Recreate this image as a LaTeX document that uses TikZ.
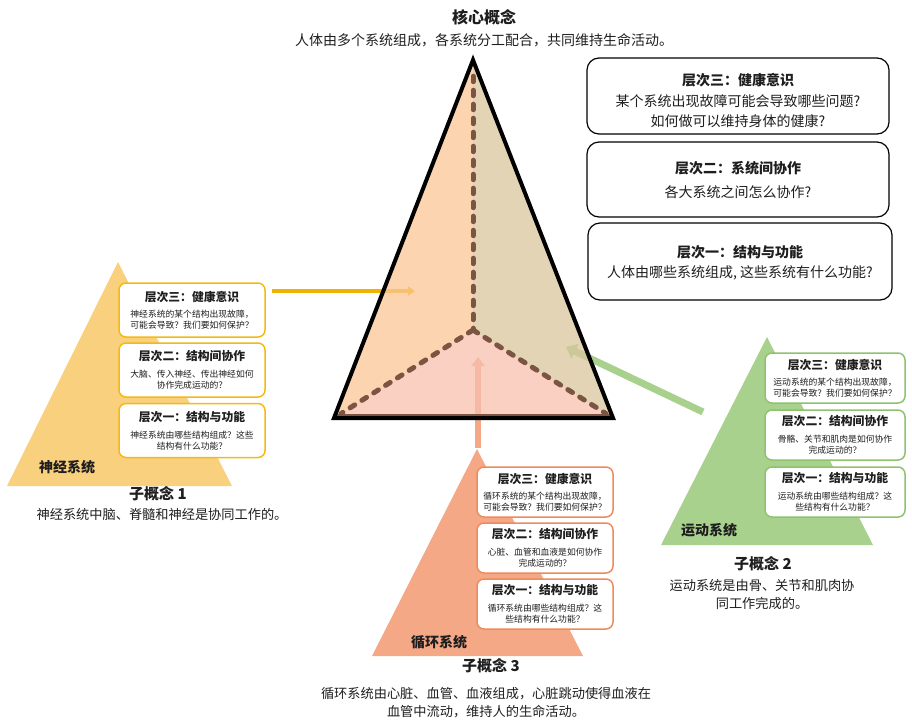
\documentclass[tikz,border=0pt]{standalone}
\usepackage{fontspec}
\setmainfont{Noto Sans CJK SC}
\usetikzlibrary{arrows.meta,calc}
\definecolor{ylw}{HTML}{F9D07E}
\definecolor{ylwline}{HTML}{F5B912}
\definecolor{ylwarrow}{HTML}{F0B400}
\definecolor{grn}{HTML}{A9D18E}
\definecolor{grnline}{HTML}{8DC26F}
\definecolor{sal}{HTML}{F5A886}
\definecolor{salline}{HTML}{EE8B5A}
\definecolor{faceL}{HTML}{FBC696}
\definecolor{faceR}{HTML}{D8C69B}
\definecolor{faceB}{HTML}{F7C0AE}
\definecolor{brn}{HTML}{7B5442}
\definecolor{txt}{HTML}{1E1E1E}
\tikzset{
  sbox/.style={rounded corners=7pt, line width=1.5pt, fill=white, inner sep=0pt},
  stitle/.style={font=\fontsize{11.8}{13}\selectfont\bfseries, text=txt, inner sep=0pt},
  sbody/.style={font=\fontsize{8.8}{11}\selectfont, align=center, text=txt, inner sep=0pt},
  bigbox/.style={draw=black, line width=1.2pt, rounded corners=12pt, fill=white, inner sep=0pt},
  btitle/.style={font=\fontsize{14}{17}\selectfont\bfseries, text=txt, inner sep=0pt},
  bbody/.style={font=\fontsize{14}{20}\selectfont, align=center, text=txt, inner sep=0pt},
  syslabel/.style={font=\fontsize{14}{16}\selectfont\bfseries, text=txt, inner sep=0pt},
  subhead/.style={font=\fontsize{15}{18}\selectfont\bfseries, text=txt, inner sep=0pt},
  subdesc/.style={font=\fontsize{13.2}{18}\selectfont, align=center, text=txt, inner sep=0pt},
  dashedge/.style={brn, line width=5pt, line cap=round, dash pattern=on 5.5pt off 8.5pt},
}
\newcommand\SB[9]{%
  \node[sbox, draw=#6, minimum width=#4pt, minimum height=#5pt] (#1) at (#2,#3) {};
  \node[stitle] (#1t) at (#2,{#3-13.5}) {#7};
  \node[sbody] (#1b) at (#2,{#3+10}) {#8\\#9};
}
\begin{document}
\begin{tikzpicture}[x=1pt,y=-1pt]
\useasboundingbox (0,0) rectangle (912,723);

% ---------- titles ----------
\node[font=\fontsize{16}{18}\selectfont\bfseries, text=txt, inner sep=0pt] (coretitle) at (484,17) {核心概念};
\node[font=\fontsize{14}{17}\selectfont, text=txt, inner sep=0pt] (coresub) at (484,40) {人体由多个系统组成，各系统分工配合，共同维持生命活动。};

% ---------- sub triangles ----------
\fill[ylw] (118,262) -- (232,486) -- (7,486) -- cycle;
\fill[grn] (767,337) -- (873,545) -- (661,545) -- cycle;
\fill[sal] (477,449) -- (583,656) -- (372,656) -- cycle;

% ---------- arrows (under the pyramid) ----------
\coordinate (ya) at (272,291);
\coordinate (yb) at (415,291);
\coordinate (ga) at (703,412);
\coordinate (gb) at (566,347);
\coordinate (sa) at (478,448);
\coordinate (sb) at (478,357);
\draw[ylwarrow, line width=3.5pt, -{Triangle[length=7pt,width=9pt]}] (ya) -- (yb);
\draw[grn, line width=7pt, -{Triangle[length=10pt,width=16pt]}] (ga) -- (gb);
\draw[sal, line width=6pt, -{Triangle[length=9pt,width=13pt]}] (sa) -- (sb);

% ---------- central pyramid ----------
\coordinate (A) at (473,60);
\coordinate (L) at (334,418);
\coordinate (R) at (613,418);
\coordinate (C) at (473,330);
\fill[faceL, fill opacity=0.75] (A) -- (C) -- (L) -- cycle;
\fill[faceR, fill opacity=0.75] (A) -- (C) -- (R) -- cycle;
\fill[faceB, fill opacity=0.75] (L) -- (C) -- (R) -- cycle;
\draw[brn, line width=1.5pt] ($(L)+(1,-3)$) -- ($(R)+(-1,-3)$);
\draw[dashedge] ($(A)!0.06!(C)$) -- (C);
\draw[dashedge] (C) -- ($(C)!0.95!(L)$);
\draw[dashedge] (C) -- ($(C)!0.95!(R)$);
\draw[black, line width=4pt, line join=miter] (A) -- (R) -- (L) -- cycle;

% ---------- right boxes ----------
\node[bigbox, minimum width=302pt, minimum height=76pt] (lv3) at (738,96) {};
\node[btitle] (lv3t) at (738,80) {层次三：健康意识};
\node[bbody] (lv3b) at (738,111) {某个系统出现故障可能会导致哪些问题?\\如何做可以维持身体的健康?};
\node[bigbox, minimum width=302pt, minimum height=75pt] (lv2) at (738,179.5) {};
\node[btitle] (lv2t) at (738,168) {层次二：系统间协作};
\node[bbody] (lv2b) at (738,192) {各大系统之间怎么协作?};
\node[bigbox, minimum width=304pt, minimum height=77pt] (lv1) at (740,261.5) {};
\node[btitle] (lv1t) at (740,252) {层次一：结构与功能};
\node[bbody] (lv1b) at (740,273) {人体由哪些系统组成, 这些系统有什么功能?};

% ---------- nervous system ----------
\SB{n3}{192}{310}{146}{54}{ylwline}{层次三：健康意识}{神经系统的某个结构出现故障，}{可能会导致？我们要如何保护？}
\SB{n2}{192}{370}{146}{54}{ylwline}{层次二：结构间协作}{大脑、传入神经、传出神经如何}{协作完成运动的？}
\SB{n1}{192}{430.5}{146}{54}{ylwline}{层次一：结构与功能}{神经系统由哪些结构组成？这些}{结构有什么功能？}
\node[syslabel] (nlab) at (67,467) {神经系统};
\node[subhead] (nhead) at (158,494) {子概念 1};
\node[subdesc] (ndesc) at (162,514) {神经系统中脑、脊髓和神经是协同工作的。};

% ---------- motor system ----------
\SB{m3}{835}{378}{140}{50}{grnline}{层次三：健康意识}{运动系统的某个结构出现故障，}{可能会导致？我们要如何保护？}
\SB{m2}{835}{435}{140}{50}{grnline}{层次二：结构间协作}{骨骼、关节和肌肉是如何协作}{完成运动的？}
\SB{m1}{835}{492}{140}{50}{grnline}{层次一：结构与功能}{运动系统由哪些结构组成？这}{些结构有什么功能？}
\node[syslabel] (mlab) at (709,530) {运动系统};
\node[subhead] (mhead) at (763,564) {子概念 2};
\node[subdesc] (mdesc) at (762,594) {运动系统是由骨、关节和肌肉协\\同工作完成的。};

% ---------- circulatory system ----------
\SB{c3}{545}{492}{136}{50}{salline}{层次三：健康意识}{循环系统的某个结构出现故障，}{可能会导致？我们要如何保护？}
\SB{c2}{545}{548}{136}{50}{salline}{层次二：结构间协作}{心脏、血管和血液是如何协作}{完成运动的？}
\SB{c1}{545}{604}{136}{50}{salline}{层次一：结构与功能}{循环系统由哪些结构组成？这}{些结构有什么功能？}
\node[syslabel] (clab) at (439,642) {循环系统};
\node[subhead] (chead) at (491,666) {子概念 3};
\node[subdesc] (cdesc) at (486,703) {循环系统由心脏、血管、血液组成，心脏跳动使得血液在\\血管中流动，维持人的生命活动。};
\end{tikzpicture}
\end{document}
